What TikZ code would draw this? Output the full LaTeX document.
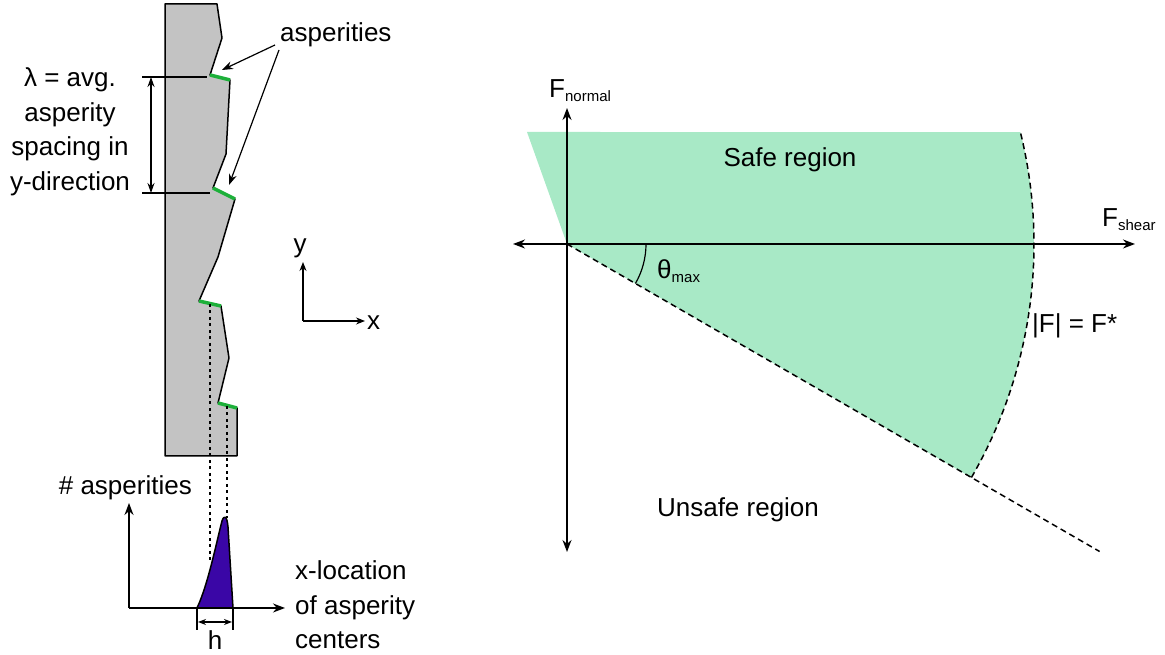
\documentclass[tikz,border=0pt]{standalone}
\usepackage{fontspec}
\setmainfont{Liberation Sans}
\usetikzlibrary{arrows.meta}
\definecolor{BlockGray}{HTML}{C3C3C3}
\definecolor{AspGreen}{HTML}{1DB03A}
\definecolor{SafeGreen}{HTML}{A8E9C6}
\definecolor{PeakPurple}{HTML}{3A06A6}
\newcommand\mainsize{\fontsize{26}{34.5}\selectfont}
\newcommand\lowsub[1]{\raisebox{-4pt}{\fontsize{15}{15}\selectfont #1}}
\tikzset{
  axis/.style={line width=1.5pt, -{Stealth[length=12pt, width=9pt]}},
  twoaxis/.style={line width=1.5pt, {Stealth[length=12pt, width=9pt]}-{Stealth[length=12pt, width=9pt]}},
  pointer/.style={line width=1.2pt, -{Stealth[length=11pt, width=8pt]}},
  dimline/.style={line width=1.2pt, {Stealth[length=10pt, width=7pt]}-{Stealth[length=10pt, width=7pt]}},
  asperity/.style={draw=AspGreen, line width=3.5pt},
  guide/.style={line width=1.5pt, dash pattern=on 3pt off 3.5pt},
  boundary/.style={line width=1.5pt, dash pattern=on 6pt off 4pt},
  lbl/.style={font=\mainsize, inner sep=0pt, align=center}
}
\begin{document}
\begin{tikzpicture}[x=1pt, y=1pt]
  \useasboundingbox (0,0) rectangle (1165,655);
  % block with asperities
  \filldraw[fill=BlockGray, line width=1.5pt, line join=round]
    (165,651) -- (217,651) -- (222,617) -- (210,580) -- (230,575) -- (226,501)
    -- (213,467) -- (235,456) -- (218,398) -- (199,354) -- (221,349) -- (229,297)
    -- (218,252) -- (237,247) -- (237,199) -- (165,199) -- cycle;
  \coordinate (a1s) at (210,580); \coordinate (a1e) at (230,575);
  \coordinate (a2s) at (213,467); \coordinate (a2e) at (235,456);
  \coordinate (a3s) at (199,354); \coordinate (a3e) at (221,349);
  \coordinate (a4s) at (218,252); \coordinate (a4e) at (237,247);
  \foreach \k in {1,...,4}
    \draw[asperity] (a\k s) -- (a\k e);

  \node[lbl, anchor=base west] (asplbl) at (280,613) {asperities};
  \coordinate (tail1) at (275,610);
  \coordinate (tail2) at (279,605);
  \coordinate (tip1) at (222,585);
  \coordinate (tip2) at (229,470);
  \draw[pointer] (tail1) -- (tip1);
  \draw[pointer] (tail2) -- (tip2);

  % spacing lambda
  \coordinate (lamtop) at (151,578);
  \coordinate (lambot) at (151,462);
  \draw[line width=1.2pt] (142,578) -- (207,578);
  \draw[line width=1.2pt] (142,462) -- (210,462);
  \draw[dimline] (lamtop) -- (lambot);
  \node[lbl] (lamlbl) at (70,523) {λ = avg.\\asperity\\spacing in\\y-direction};

  % x-y directions
  \coordinate (xyo) at (303,334);
  \coordinate (ytip) at (303,393);
  \coordinate (xtip) at (365,334);
  \draw[line width=1.2pt, -{Stealth[length=9pt, width=7pt]}] (xyo) -- (ytip);
  \draw[line width=1.2pt, -{Stealth[length=9pt, width=7pt]}] (xyo) -- (xtip);
  \node[lbl, anchor=base] (ylbl) at (300,402) {y};
  \node[lbl, anchor=base west] (xlbl) at (367,325) {x};

  % histogram of asperity centers
  \coordinate (ho) at (129,47);
  \coordinate (htop) at (129,152);
  \coordinate (hend) at (285,47);
  \coordinate (peakl) at (197,47);
  \coordinate (peakr) at (233,47);
  \coordinate (peak) at (224,138);
  \filldraw[fill=PeakPurple, line width=1.5pt, line join=round]
    (peakl) .. controls (208,70) and (217,115) .. (222,134)
    .. controls (224,140) and (227,140) .. (228,128) -- (peakr) -- cycle;
  \draw[guide] (a3s) ++(11,-3) -- (210,92);
  \draw[guide] (a4s) ++(9,-3) -- (227,137);
  \draw[axis] (ho) -- (htop);
  \draw[axis] (ho) -- (hend);
  \draw[line width=1.2pt] (peakl) -- (197,25);
  \draw[line width=1.2pt] (peakr) -- (233,25);
  \draw[line width=1.2pt, {Stealth[length=8pt, width=6pt]}-{Stealth[length=8pt, width=6pt]}] (198,33) -- (232,33);
  \node[lbl, anchor=base] (hlbl) at (215,5) {h};
  \node[lbl, anchor=base east] (cntlbl) at (192,160) {\# asperities};
  \node[lbl, anchor=west, align=left] (loclbl) at (295,50) {x-location\\of asperity\\centers};

  % force diagram
  \coordinate (O) at (567,411);
  \coordinate (ntop) at (567,547);
  \coordinate (nbot) at (567,103);
  \coordinate (sleft) at (513,411);
  \coordinate (sright) at (1135,411);
  \coordinate (cone) at ([shift={(-30:467)}]O);
  \coordinate (ray) at ([shift={(-30:615)}]O);
  \fill[SafeGreen] (527,523) -- (O) -- (cone)
    arc[start angle=-30, end angle=13.87, radius=467] -- cycle;
  \draw[twoaxis] (nbot) -- (ntop);
  \draw[twoaxis] (sleft) -- (sright);
  \draw[boundary] (O) -- (ray);
  \draw[boundary] (cone) arc[start angle=-30, end angle=13.87, radius=467];
  \draw[line width=1.2pt] ([shift={(0:79)}]O) arc[start angle=0, end angle=-30, radius=79];

  \node[lbl, anchor=base west] (fnormal) at (549,557) {F\lowsub{normal}};
  \node[lbl, anchor=base west] (fshear) at (1102,428) {F\lowsub{shear}};
  \node[lbl, anchor=base west] (theta) at (657,376) {θ\lowsub{max}};
  \node[lbl, anchor=base west] (flimit) at (1032,322) {|F| = F*};
  \node[lbl] (safe) at (790,495) {Safe region};
  \node[lbl] (unsafe) at (738,145) {Unsafe region};
\end{tikzpicture}
\end{document}
